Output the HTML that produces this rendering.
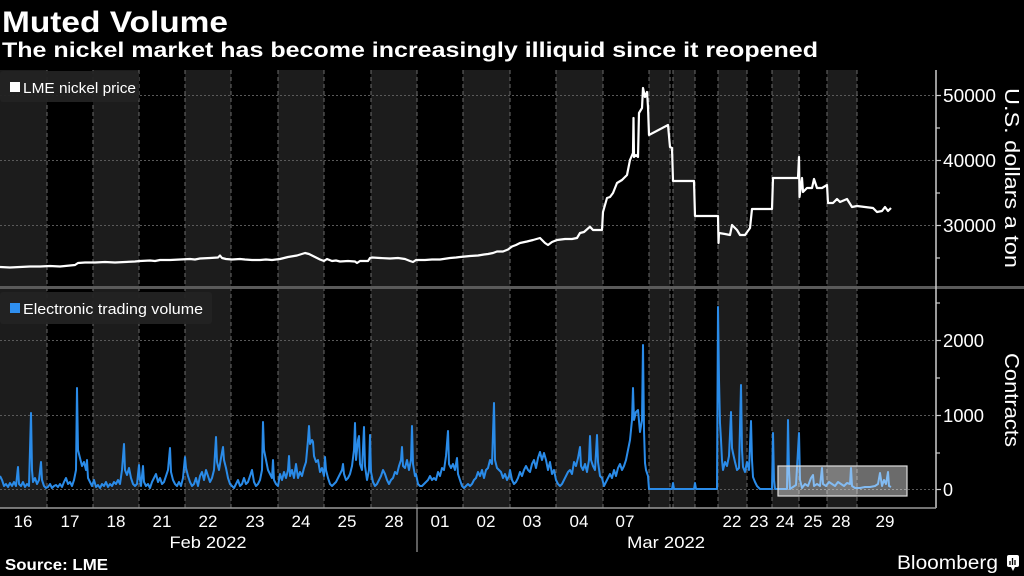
<!DOCTYPE html>
<html><head><meta charset="utf-8">
<style>
html,body{margin:0;padding:0;background:#000;}
svg{display:block;}
text{font-family:"Liberation Sans",sans-serif;fill:#fff;}
</style></head>
<body>
<svg width="1024" height="576" viewBox="0 0 1024 576" xmlns="http://www.w3.org/2000/svg">
<rect x="0" y="0" width="1024" height="576" fill="#000"/>
<!-- titles -->
<text x="2" y="32" font-size="30" font-weight="bold" textLength="226" lengthAdjust="spacingAndGlyphs">Muted Volume</text>
<text x="2" y="57" font-size="21" font-weight="bold" textLength="816" lengthAdjust="spacingAndGlyphs">The nickel market has become increasingly illiquid since it reopened</text>

<!-- bands -->
<g fill="#1c1c1c">
<rect x="0" y="70" width="47" height="438"/>
<rect x="93" y="70" width="46" height="438"/>
<rect x="185" y="70" width="46" height="438"/>
<rect x="278" y="70" width="46" height="438"/>
<rect x="371" y="70" width="46" height="438"/>
<rect x="463" y="70" width="47" height="438"/>
<rect x="556" y="70" width="47" height="438"/>
<rect x="649" y="70" width="21" height="438"/>
<rect x="673" y="70" width="22" height="438"/>
<rect x="718" y="70" width="29" height="438"/>
<rect x="772" y="70" width="27" height="438"/>
<rect x="827" y="70" width="30" height="438"/>
</g>
<g stroke="#6a6a6a" stroke-width="1" stroke-dasharray="4,3">
<line x1="47" y1="70" x2="47" y2="508"/><line x1="93" y1="70" x2="93" y2="508"/>
<line x1="139" y1="70" x2="139" y2="508"/><line x1="185" y1="70" x2="185" y2="508"/>
<line x1="231" y1="70" x2="231" y2="508"/><line x1="278" y1="70" x2="278" y2="508"/>
<line x1="324" y1="70" x2="324" y2="508"/><line x1="371" y1="70" x2="371" y2="508"/>
<line x1="417" y1="70" x2="417" y2="508"/><line x1="463" y1="70" x2="463" y2="508"/>
<line x1="510" y1="70" x2="510" y2="508"/><line x1="556" y1="70" x2="556" y2="508"/>
<line x1="603" y1="70" x2="603" y2="508"/><line x1="649" y1="70" x2="649" y2="508"/>
<line x1="670" y1="70" x2="670" y2="508"/><line x1="673" y1="70" x2="673" y2="508"/>
<line x1="695" y1="70" x2="695" y2="508"/><line x1="718" y1="70" x2="718" y2="508"/>
<line x1="747" y1="70" x2="747" y2="508"/><line x1="772" y1="70" x2="772" y2="508"/>
<line x1="799" y1="70" x2="799" y2="508"/><line x1="827" y1="70" x2="827" y2="508"/>
<line x1="857" y1="70" x2="857" y2="508"/>
</g>
<!-- horizontal grid -->
<g stroke="#5a5a5a" stroke-width="1" stroke-dasharray="2,2">
<line x1="0" y1="95.5" x2="936" y2="95.5"/>
<line x1="0" y1="160.5" x2="936" y2="160.5"/>
<line x1="0" y1="225.5" x2="936" y2="225.5"/>
<line x1="0" y1="340.5" x2="936" y2="340.5"/>
<line x1="0" y1="415.5" x2="936" y2="415.5"/>
<line x1="0" y1="489.5" x2="936" y2="489.5"/>
</g>

<!-- legends -->
<rect x="0" y="71" width="139" height="31" rx="3" fill="#232323" opacity="0.95"/>
<rect x="10" y="82" width="10" height="10" fill="#fff"/>
<text x="23" y="93" font-size="15" textLength="113" lengthAdjust="spacingAndGlyphs">LME nickel price</text>

<!-- price line -->
<polyline fill="none" stroke="#fff" stroke-width="2.2" stroke-linejoin="round" points="0,267 10,267.5 20,267 30,266.5 40,266.5 50,266 60,266.5 70,265.5 75,265 78,263 85,262.5 95,262.5 105,262 115,262.5 125,262 135,261.5 140,261 150,260.5 155,261 160,260 170,260 180,259.5 190,259 195,259.5 200,258.5 210,258 218,257.5 220,255.5 222,258 226,259 232,259.5 240,259 245,259.5 252,260 260,260 266,259.5 272,260 280,259 288,257 297,255.5 305,253 309,254 313,256 318,258.5 320,259.5 324,261 327,259 332,261 336,260.5 340,261.5 348,261 355,261.5 357,263 360,261 368,261 370,258 372,257.5 380,258 390,258.5 398,258 405,259 410,261 413,262 416,260 425,260 432,259.5 440,259.5 450,258 456,257.5 460,257 470,256 478,255.5 484,254.5 488,254 493,253 497,251.5 503,251.5 508,249.5 512,246.5 516,245 520,243 527,241.5 533,240 540,238 545,243 548,245 552,242 557,240 565,239 572,239 577,238 580,233 584,232 590,226.7 593,230 602,230 603,212 607,198 610,197 613,193 617,183 622,180 627,175 630,160 633,153 633.5,118 634,157 636,155 638,157 639,113 642,108 643,88 645,97 647,92 648,107 649,135 668,125 670,147 672,148 673,181 694,181 695,216 718,216 718.5,243 719,233 725,234 730,235 732,225 737,230 740,235 745,235 750,228 752,209 772,209 773,178 798,178 799,157 799.5,197 802,178 803,192 807,188 812,188 814,179 817,188 822,188 827,185 828,203 833,203 837,199 840,202 847,199 852,207 857,206 865,207 873,208 877,212 882,211 885,207 888,211 891,208"/>

<!-- separator -->
<rect x="0" y="286" width="1024" height="3" fill="#5a5a5a"/>

<rect x="0" y="292" width="212" height="32" rx="3" fill="#232323" opacity="0.95"/>
<rect x="10" y="303" width="10" height="10" fill="#2f8fef"/>
<text x="23" y="314" font-size="15" textLength="180" lengthAdjust="spacingAndGlyphs">Electronic trading volume</text>

<!-- volume line -->
<polyline fill="none" stroke="#2a8be8" stroke-width="2" stroke-linejoin="round" points="0,476 2,480 4,486 6,484 8,487 10,483 12,486 14,482 16,486 18,467 19,484 21,486 23,482 25,487 27,484 29,486 31,413 32,470 33,482 35,478 37,484 39,480 41,462 42,480 44,486 46,488 48,487 50,484 52,488 54,486 56,485 58,487 60,484 62,487 64,482 66,478 68,484 70,482 72,486 74,480 76,470 77,388 78,450 80,458 82,466 84,462 86,470 87,460 88,478 90,482 92,486 94,480 96,487 98,485 100,488 102,484 104,486 106,482 108,487 110,484 112,486 114,482 116,484 118,480 120,484 122,470 124,444 125,470 127,475 129,468 131,478 133,484 135,486 137,484 139,465 140,480 141,486 143,466 144,482 146,486 148,484 150,488 152,482 154,478 156,474 158,482 160,478 162,484 164,482 166,476 168,470 170,448 171,472 173,480 175,484 177,486 179,482 181,486 183,478 185,457 186,468 188,476 190,482 192,486 194,484 196,478 198,486 200,476 202,472 204,480 206,470 208,476 210,482 212,478 214,470 216,437 217,462 219,470 221,458 223,447 224,460 226,468 228,478 230,484 232,486 234,488 236,484 238,480 240,486 242,484 244,478 246,484 248,482 250,476 252,470 254,482 256,486 258,484 260,480 262,470 263,422 264,450 266,460 268,470 270,474 272,478 273,460 274,480 276,484 278,486 280,474 282,480 284,472 286,478 288,470 289,456 290,476 292,470 294,478 296,464 298,478 300,472 302,476 304,468 306,462 308,440 309,426 310,444 312,440 313,442 314,456 316,462 318,460 320,472 322,468 324,476 325,457 326,470 328,478 330,484 332,486 334,484 336,482 338,478 340,474 342,470 343,464 344,474 346,480 348,478 350,474 352,466 354,450 355,423 356,460 358,440 359,436 360,464 362,470 364,427 365,466 367,480 369,470 370,435 371,472 373,482 375,486 377,484 379,480 381,476 383,470 385,474 387,480 389,484 391,480 393,478 395,472 397,474 399,466 401,460 402,447 403,466 405,468 407,460 409,470 411,460 412,426 413,464 415,476 416,474 418,484 420,486 422,486 424,484 426,482 428,480 430,476 432,480 434,478 436,480 438,472 440,476 442,468 444,470 446,456 448,431 449,464 451,468 453,464 455,470 457,458 458,474 460,480 462,486 464,488 466,486 468,484 470,486 472,484 474,480 476,478 478,472 480,476 482,470 484,478 486,470 488,468 490,460 492,464 494,403 495,460 497,468 499,470 501,472 503,478 505,474 507,480 509,476 510,470 512,480 514,484 516,482 518,478 520,472 522,476 524,470 526,466 528,470 530,472 532,464 534,460 536,468 538,458 540,452 542,460 544,453 546,460 548,470 550,462 552,474 554,470 556,480 558,484 560,486 562,484 564,480 566,476 568,472 570,470 572,474 574,462 576,466 578,458 580,447 581,466 583,470 585,464 587,472 589,460 590,436 591,460 593,466 595,470 597,435 598,462 600,476 602,478 604,486 606,482 608,478 610,474 612,478 614,470 616,476 618,468 620,464 622,470 624,466 626,460 628,450 630,440 632,420 633,388 634,420 636,412 638,410 640,432 642,420 643,345 644,430 645,463 646,470 648,476 649,489 672,489 673,483 674,489 694,489 695,483 696,489 717,489 718,307 719,380 720,423 721,440 722,460 723,470 725,462 727,466 729,456 731,412 732,448 733,453 735,462 737,470 739,468 741,385 742,450 743,467 745,472 747,462 749,470 751,421 752,460 753,477 755,482 757,486 760,489 772,489 773,433 774,480 775,489 787,489 788,420 789,470 790,489 793,487 796,485 799,433 800,480 802,488 805,484 808,486 811,478 813,475 814,486 817,484 820,486 822,468 823,484 826,486 829,482 832,484 835,486 838,482 841,484 844,486 847,483 850,484 851,468 852,486 855,488 860,488 865,487 870,487 875,486 878,484 880,473 882,486 884,480 886,484 888,472 889,486 891,487"/>

<!-- highlight box -->
<rect x="778" y="466" width="129" height="30" fill="#fff" fill-opacity="0.42" stroke="#ddd" stroke-width="1.2"/>

<!-- axes -->
<line x1="936" y1="70" x2="936" y2="508" stroke="#ccc" stroke-width="1.5"/>
<line x1="0" y1="508" x2="936" y2="508" stroke="#999" stroke-width="1.5"/>
<line x1="417" y1="508" x2="417" y2="552" stroke="#bbb" stroke-width="1"/>
<g stroke="#ccc" stroke-width="1.2">
<line x1="936" y1="95.5" x2="941" y2="95.5"/><line x1="936" y1="128" x2="940" y2="128"/>
<line x1="936" y1="160.5" x2="941" y2="160.5"/><line x1="936" y1="193" x2="940" y2="193"/>
<line x1="936" y1="225.5" x2="941" y2="225.5"/><line x1="936" y1="258" x2="940" y2="258"/>
<line x1="936" y1="303" x2="940" y2="303"/><line x1="936" y1="340.5" x2="941" y2="340.5"/>
<line x1="936" y1="378" x2="940" y2="378"/><line x1="936" y1="415.5" x2="941" y2="415.5"/>
<line x1="936" y1="453" x2="940" y2="453"/><line x1="936" y1="489.5" x2="941" y2="489.5"/>
</g>
<g font-size="18">
<text x="943" y="102" textLength="53" lengthAdjust="spacingAndGlyphs">50000</text>
<text x="943" y="167" textLength="53" lengthAdjust="spacingAndGlyphs">40000</text>
<text x="943" y="232" textLength="53" lengthAdjust="spacingAndGlyphs">30000</text>
<text x="943" y="347" textLength="41" lengthAdjust="spacingAndGlyphs">2000</text>
<text x="943" y="422" textLength="41" lengthAdjust="spacingAndGlyphs">1000</text>
<text x="943" y="496">0</text>
</g>
<text transform="translate(1005,178) rotate(90)" font-size="20" text-anchor="middle" textLength="180" lengthAdjust="spacingAndGlyphs">U.S. dollars a ton</text>
<text transform="translate(1005,400) rotate(90)" font-size="20" text-anchor="middle" textLength="94" lengthAdjust="spacingAndGlyphs">Contracts</text>

<!-- x labels -->
<g font-size="17" text-anchor="middle">
<text x="23" y="527">16</text><text x="70" y="527">17</text><text x="116" y="527">18</text>
<text x="162" y="527">21</text><text x="208" y="527">22</text><text x="255" y="527">23</text>
<text x="301" y="527">24</text><text x="347" y="527">25</text><text x="394" y="527">28</text>
<text x="440" y="527">01</text><text x="486" y="527">02</text><text x="532" y="527">03</text>
<text x="579" y="527">04</text><text x="625" y="527">07</text>
<text x="732" y="527">22</text><text x="759" y="527">23</text><text x="785" y="527">24</text>
<text x="813" y="527">25</text><text x="841" y="527">28</text><text x="885" y="527">29</text>
<text x="208" y="548" textLength="77" lengthAdjust="spacingAndGlyphs">Feb 2022</text>
<text x="666" y="548" textLength="78" lengthAdjust="spacingAndGlyphs">Mar 2022</text>
</g>

<!-- footer -->
<text x="5" y="570" font-size="16" font-weight="bold" textLength="103" lengthAdjust="spacingAndGlyphs">Source: LME</text>
<text x="897" y="569" font-size="19" textLength="101" lengthAdjust="spacingAndGlyphs">Bloomberg</text>
<rect x="1007" y="555" width="12" height="12" rx="2" fill="#fff"/>
<polygon points="1011,567 1015,567 1013,571" fill="#fff"/>
<g stroke="#000" stroke-width="1.3">
<line x1="1010" y1="565" x2="1010" y2="561"/><line x1="1012.5" y1="565" x2="1012.5" y2="558"/><line x1="1015" y1="565" x2="1015" y2="560"/>
</g>
</svg>
</body></html>
